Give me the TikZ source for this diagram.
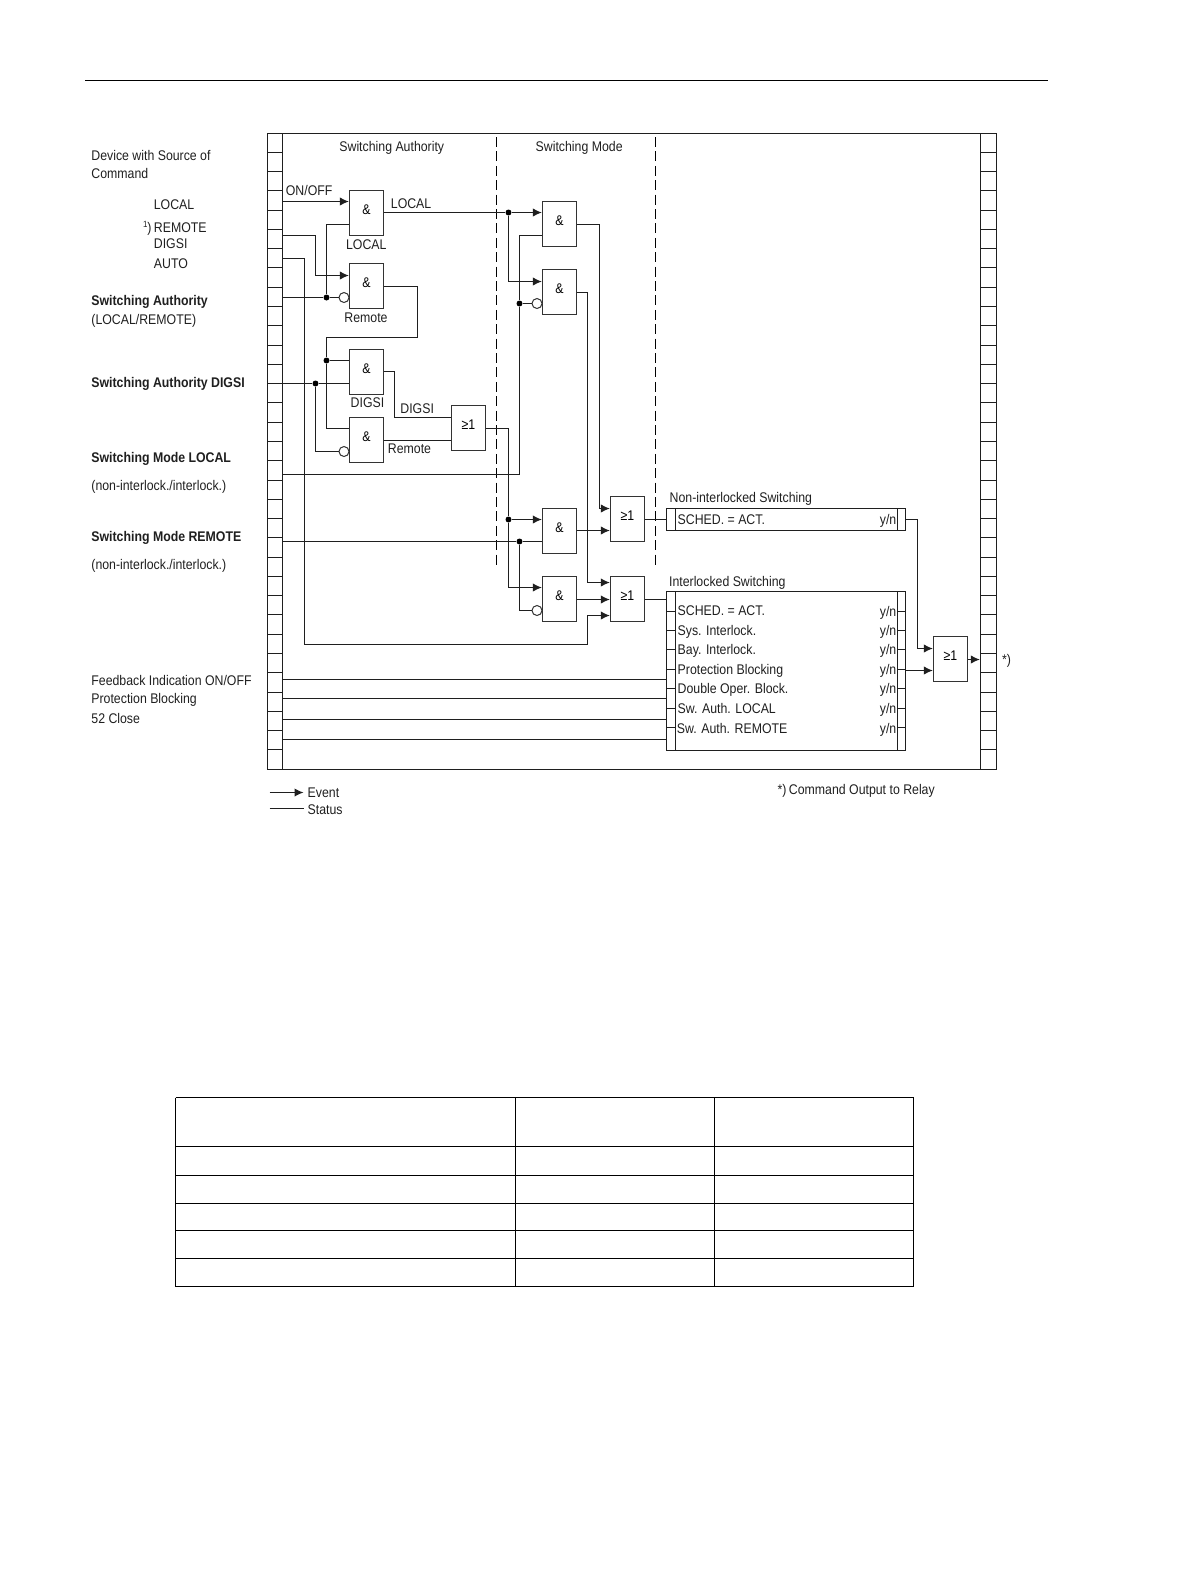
\documentclass[tikz,border=0pt]{standalone}
\usepackage{fontspec}
\setmainfont[FakeStretch=0.88]{Liberation Sans}
\usetikzlibrary{arrows.meta}
\tikzset{
  wire/.style={line width=0.6pt,draw=black!88,line join=miter},
  evt/.style={wire,-{Latex[length=4.5pt,width=4.2pt]}},
  gate/.style={draw=black!80,line width=0.65pt,rectangle,inner sep=0pt,minimum width=17pt,minimum height=22.5pt,text height=2.7pt,text depth=1pt,font=\fontsize{7}{8}\selectfont},
  lab/.style={anchor=base west,inner sep=0pt,text=black!88,font=\fontsize{7}{8}\selectfont},
  blab/.style={lab,font=\fontsize{7}{8}\selectfont\bfseries},
  dotn/.style={circle,fill=black,draw=none,inner sep=0pt,minimum size=3pt},
  bub/.style={circle,draw=black!80,fill=white,line width=0.5pt,inner sep=0pt,minimum size=5pt},
  box/.style={draw=black!88,line width=0.65pt,rectangle,inner sep=0pt},
  sepline/.style={line width=0.6pt,draw=black,dash pattern=on 5pt off 2.2pt},
  ruleline/.style={line width=0.6pt,draw=black}
}
\begin{document}
\begin{tikzpicture}[x=0.5pt,y=-0.5pt]
\useasboundingbox (0,0) rectangle (1191,1587);
% header rule
\coordinate (hl) at (85,80.5);
\coordinate (hr) at (1048,80.5);
\draw[ruleline] (hl) -- (hr);
% frame
\node[box,minimum width=364.5pt,minimum height=318pt] (frame) at (632,451.5) {};
\node[box,minimum width=7.5pt,minimum height=318pt] (lstrip) at (275,451.5) {};
\node[box,minimum width=8pt,minimum height=318pt] (rstrip) at (988.5,451.5) {};
\foreach \i in {1,...,32}{
  \pgfmathsetmacro\yy{floor(133+\i*19.28)+0.5}
  \draw[wire] (267.5,\yy) -- (282.5,\yy);
  \draw[wire] (980.5,\yy) -- (996.5,\yy);
}
% dashed separators
\coordinate (da) at (496.5,137); \coordinate (db) at (496.5,565);
\coordinate (dc) at (655.5,137); \coordinate (dd) at (655.5,565);
\draw[sepline] (da) -- (db);
\draw[sepline] (dc) -- (dd);
% gates
\node[gate] (g1) at (366.5,213) {\&};
\node[gate] (g2) at (366.5,286) {\&};
\node[gate] (g3) at (366.5,372) {\&};
\node[gate] (g4) at (366.5,440) {\&};
\node[gate] (o1) at (468.5,428) {≥1};
\node[gate] (g5) at (559.5,224) {\&};
\node[gate] (g6) at (559.5,292) {\&};
\node[gate] (g7) at (559.5,531) {\&};
\node[gate] (g8) at (559.5,599) {\&};
\node[gate] (o2) at (627.5,519) {≥1};
\node[gate] (o3) at (627.5,599) {≥1};
\node[gate] (o4) at (950.5,659) {≥1};
% condition boxes
\node[box,minimum width=119.5pt,minimum height=11pt] (nib) at (786,519.5) {};
\node[box,minimum width=119.5pt,minimum height=79.5pt] (ib) at (786,671) {};
\draw[wire] (675.5,508.5) -- (675.5,530.5);
\draw[wire] (897.5,508.5) -- (897.5,530.5);
\draw[wire] (675.5,591.5) -- (675.5,750.5);
\draw[wire] (897.5,591.5) -- (897.5,750.5);
\foreach \y in {611.5,630.5,649.5,669.5,688.5,708.5,727.5}{
  \draw[wire] (666.5,\y) -- (675.5,\y);
  \draw[wire] (897.5,\y) -- (905.5,\y);
}
% bubbles and dots
\node[bub] (b2) at (344,297.5) {};
\node[bub] (b4) at (344,451.5) {};
\node[bub] (b6) at (537,303.5) {};
\node[bub] (b8) at (537,610.5) {};
\node[dotn] (d1) at (326.5,297.5) {};
\node[dotn] (d2) at (326.5,360.5) {};
\node[dotn] (d3) at (315.5,383.5) {};
\node[dotn] (d4) at (508.5,212.5) {};
\node[dotn] (d5) at (519.5,303.5) {};
\node[dotn] (d6) at (508.5,519.5) {};
\node[dotn] (d7) at (519.5,541.5) {};
% ports on the left strip
\coordinate (p1) at (282.5,201.5);
\coordinate (p2) at (282.5,235.5);
\coordinate (p3) at (282.5,258.5);
\coordinate (p4) at (282.5,297.5);
\coordinate (p5) at (282.5,383.5);
\coordinate (p6) at (282.5,474.5);
\coordinate (p7) at (282.5,541.5);
\coordinate (p8) at (282.5,679.5);
\coordinate (p9) at (282.5,698.5);
\coordinate (p10) at (282.5,719.5);
\coordinate (p11) at (282.5,739.5);
% left part wiring
\draw[evt] (p1) -- (g1.west |- p1);
\draw[evt] (p2) -- (315.5,235.5) -- (315.5,275.5) -- (g2.west |- 0,275.5);
\draw[evt] (p3) -- (304.5,258.5) -- (304.5,644.5) -- (587.5,644.5) -- (587.5,615.5) -- (o3.west |- 0,615.5);
\draw[wire] (p4) -- (d1) -- (b2);
\draw[wire] (d1) -- (326.5,224.5) -- (g1.west |- 0,224.5);
\draw[wire] (g2.east |- 0,286.5) -- (417.5,286.5) -- (417.5,337.5) -- (326.5,337.5) -- (d2) -- (326.5,428.5) -- (g4.west |- 0,428.5);
\draw[wire] (d2) -- (g3.west |- d2);
\draw[wire] (p5) -- (d3) -- (g3.west |- d3);
\draw[wire] (d3) -- (315.5,451.5) -- (b4);
\draw[wire] (g3.east |- 0,371.5) -- (394.5,371.5) -- (394.5,417.5) -- (o1.west |- 0,417.5);
\draw[wire] (g4.east |- 0,440.5) -- (o1.west |- 0,440.5);
% to the switching-mode gates
\draw[wire] (g1.east |- d4) -- (d4);
\draw[evt] (d4) -- (g5.west |- d4);
\draw[evt] (d4) -- (508.5,281.5) -- (g6.west |- 0,281.5);
\draw[wire] (o1.east |- 0,428.5) -- (508.5,428.5) -- (d6);
\draw[evt] (d6) -- (g7.west |- d6);
\draw[evt] (d6) -- (508.5,587.5) -- (g8.west |- 0,587.5);
\draw[wire] (p6) -- (519.5,474.5) -- (d5) -- (519.5,235.5) -- (g5.west |- 0,235.5);
\draw[wire] (d5) -- (b6);
\draw[wire] (p7) -- (d7) -- (g7.west |- d7);
\draw[wire] (d7) -- (519.5,610.5) -- (b8);
% gate outputs
\draw[evt] (g5.east |- 0,224.5) -- (599.5,224.5) -- (599.5,508.5) -- (o2.west |- 0,508.5);
\draw[evt] (g6.east |- 0,292.5) -- (587.5,292.5) -- (587.5,582.5) -- (o3.west |- 0,582.5);
\draw[evt] (g7.east |- 0,530.5) -- (o2.west |- 0,530.5);
\draw[evt] (g8.east |- 0,599.5) -- (o3.west |- 0,599.5);
% into the boxes
\draw[wire] (o2.east |- 0,519.5) -- (nib.west |- 0,519.5);
\draw[wire] (o3.east |- 0,599.5) -- (ib.west |- 0,599.5);
\draw[wire] (p8) -- (ib.west |- p8);
\draw[wire] (p9) -- (ib.west |- p9);
\draw[wire] (p10) -- (ib.west |- p10);
\draw[wire] (p11) -- (ib.west |- p11);
% to the output
\draw[evt] (nib.east) -- (917.5,519.5) -- (917.5,648.5) -- (o4.west |- 0,648.5);
\draw[evt] (ib.east |- 0,670.5) -- (o4.west |- 0,670.5);
\draw[evt] (o4.east |- 0,659.5) -- (rstrip.west |- 0,659.5);
% legend
\coordinate (la) at (269.5,792.5); \coordinate (lb) at (303.5,792.5);
\coordinate (lc) at (269.5,808.5); \coordinate (ld) at (303.5,808.5);
\draw[evt] (la) -- (lb);
\draw[wire] (lc) -- (ld);
% left labels
\node[lab] (t1) at (91,160) {Device with Source of};
\node[lab] (t2) at (91,178.3) {Command};
\node[lab] (t3) at (153.5,209) {LOCAL};
\node[lab,anchor=base east] (t4a) at (152,232.3) {\raisebox{2.4pt}{\fontsize{4.5}{5}\selectfont 1})};
\node[lab] (t4) at (153.5,232.3) {REMOTE};
\node[lab] (t5) at (153.5,248.7) {DIGSI};
\node[lab] (t6) at (153.5,268.7) {AUTO};
\node[blab] (t7) at (91,305.3) {Switching Authority};
\node[lab] (t8) at (91,324.7) {(LOCAL/REMOTE)};
\node[blab] (t9) at (91,387.7) {Switching Authority DIGSI};
\node[blab] (t10) at (91,462) {Switching Mode LOCAL};
\node[lab] (t11) at (91,490.7) {(non-interlock./interlock.)};
\node[blab] (t12) at (91,541) {Switching Mode REMOTE};
\node[lab] (t13) at (91,569.3) {(non-interlock./interlock.)};
\node[lab] (t14) at (91,685) {Feedback Indication ON/OFF};
\node[lab] (t15) at (91,703.3) {Protection Blocking};
\node[lab] (t16) at (91,723.7) {52 Close};
% diagram labels
\node[lab] (s1) at (339,151) {Switching Authority};
\node[lab] (s2) at (535.3,151) {Switching Mode};
\node[lab] (s3) at (285.5,195.7) {ON/OFF};
\node[lab] (s4) at (390.5,208.3) {LOCAL};
\node[lab] (s5) at (345.7,249) {LOCAL};
\node[lab] (s6) at (344,322.3) {Remote};
\node[lab] (s7) at (350.3,407.3) {DIGSI};
\node[lab] (s8) at (400,413.3) {DIGSI};
\node[lab] (s9) at (387.5,453.3) {Remote};
\node[lab] (s10) at (669.3,502.3) {Non-interlocked Switching};
\node[lab] (s11) at (668.7,586.3) {Interlocked Switching};
\node[lab] (c0) at (677.3,524) {SCHED. = ACT.};
\node[lab] (c1) at (677.3,615.7) {SCHED. = ACT.};
\node[lab] (c2) at (677.3,635) {Sys. Interlock.};
\node[lab] (c3) at (677.3,654.3) {Bay. Interlock.};
\node[lab] (c4) at (677.3,674) {Protection Blocking};
\node[lab] (c5) at (677.3,693.3) {Double Oper. Block.};
\node[lab] (c6) at (677.3,713.3) {Sw. Auth. LOCAL};
\node[lab] (c7) at (676.5,733.3) {Sw. Auth. REMOTE};
\foreach \n/\y in {0/524.3,1/616.2,2/635.2,3/654.6,4/674.3,5/693.6,6/713.7,7/733.3}{
  \node[lab] (yn\n) at (879.5,\y) {y/n};
}
\node[lab] (r1) at (1001.7,664) {*)};
\node[lab] (r2) at (777.3,794) {*)\,Command Output to Relay};
\node[lab] (e1) at (307.3,797.3) {Event};
\node[lab] (e2) at (307.3,814.3) {Status};
% empty table
\foreach \y in {1097.5,1146.5,1175.5,1203.5,1230.5,1258.5,1286.5}{
  \draw[ruleline] (175.5,\y) -- (913.5,\y);
}
\foreach \x in {175.5,515.5,714.5,913.5}{
  \draw[ruleline] (\x,1097.5) -- (\x,1286.5);
}
\end{tikzpicture}
\end{document}
